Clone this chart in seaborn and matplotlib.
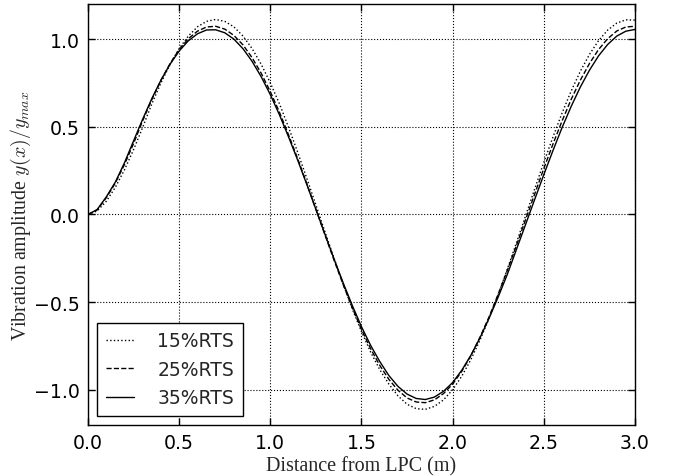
import matplotlib
matplotlib.use("Agg")
import matplotlib.pyplot as plt
import seaborn as sns
import numpy as np

# distance from LPC (m), 0.05 m step
x_m = [0.00, 0.05, 0.10, 0.15, 0.20, 0.25, 0.30, 0.35, 0.40, 0.45,
       0.50, 0.55, 0.60, 0.65, 0.70, 0.75, 0.80, 0.85, 0.90, 0.95,
       1.00, 1.05, 1.10, 1.15, 1.20, 1.25, 1.30, 1.35, 1.40, 1.45,
       1.50, 1.55, 1.60, 1.65, 1.70, 1.75, 1.80, 1.85, 1.90, 1.95,
       2.00, 2.05, 2.10, 2.15, 2.20, 2.25, 2.30, 2.35, 2.40, 2.45,
       2.50, 2.55, 2.60, 2.65, 2.70, 2.75, 2.80, 2.85, 2.90, 2.95, 3.00]

rts15 = [0.000, 0.020, 0.075, 0.155, 0.255, 0.370, 0.497, 0.631, 0.750, 0.856,
         0.946, 1.017, 1.070, 1.101, 1.112, 1.101, 1.070, 1.017, 0.946, 0.856,
         0.750, 0.631, 0.497, 0.355, 0.206, 0.054, -0.100, -0.252, -0.399, -0.539,
         -0.668, -0.784, -0.884, -0.967, -1.034, -1.082, -1.107, -1.111, -1.094, -1.057,
         -0.999, -0.922, -0.827, -0.716, -0.591, -0.455, -0.311, -0.161, -0.008, 0.146,
         0.297, 0.441, 0.578, 0.704, 0.816, 0.912, 0.991, 1.051, 1.091, 1.110, 1.108]

rts25 = [0.000, 0.026, 0.095, 0.180, 0.285, 0.405, 0.535, 0.655, 0.765, 0.860,
         0.940, 1.002, 1.045, 1.069, 1.073, 1.057, 1.021, 0.967, 0.894, 0.805,
         0.700, 0.583, 0.454, 0.318, 0.176, 0.029, -0.117, -0.262, -0.401, -0.533,
         -0.656, -0.765, -0.860, -0.940, -1.002, -1.046, -1.069, -1.073, -1.057, -1.021,
         -0.967, -0.894, -0.805, -0.700, -0.583, -0.454, -0.318, -0.176, -0.029, 0.117,
         0.262, 0.401, 0.533, 0.656, 0.765, 0.860, 0.940, 1.002, 1.046, 1.069, 1.073]

rts35 = [0.000, 0.028, 0.100, 0.185, 0.295, 0.420, 0.544, 0.661, 0.766, 0.857,
         0.932, 0.990, 1.030, 1.052, 1.053, 1.036, 1.000, 0.945, 0.873, 0.785,
         0.683, 0.568, 0.442, 0.310, 0.171, 0.029, -0.114, -0.255, -0.391, -0.520,
         -0.640, -0.746, -0.838, -0.918, -0.980, -1.024, -1.049, -1.055, -1.041, -1.008,
         -0.958, -0.888, -0.803, -0.703, -0.591, -0.470, -0.341, -0.199, -0.057, 0.086,
         0.227, 0.364, 0.495, 0.616, 0.726, 0.822, 0.904, 0.969, 1.017, 1.045, 1.055]

labels = ["15%RTS", "25%RTS", "35%RTS"]
styles = [":", "--", "-"]
series = [rts15, rts25, rts35]

xticks = [0.0, 0.5, 1.0, 1.5, 2.0, 2.5, 3.0]
yticks = [-1.0, -0.5, 0.0, 0.5, 1.0]

sns.set_style("ticks")
plt.rcParams["font.family"] = ["DejaVu Sans"]
plt.rcParams["mathtext.fontset"] = "cm"

fig = plt.figure(figsize=(6.75, 4.77), dpi=100)
ax = fig.add_axes([0.1304, 0.107, 0.8103, 0.8825])

for lab, ls, ys in zip(labels, styles, series):
    sns.lineplot(x=x_m, y=ys, ax=ax, color="black", linestyle=ls,
                 linewidth=1.0, label=lab)

ax.set_xlim(0, 3.0)
ax.set_ylim(-1.2, 1.2)
ax.set_xticks(xticks)
ax.set_yticks(yticks)
ax.set_xticklabels([f"{t:.1f}" for t in xticks])
ax.set_yticklabels([f"{t:.1f}".replace("-", "\u2212") for t in yticks])
ax.tick_params(direction="in", top=True, right=True, length=5, width=1,
               labelsize=13.6, colors="black", pad=6)
ax.grid(True, color="black", linestyle=":", linewidth=0.8)
for s in ax.spines.values():
    s.set_color("black")
    s.set_linewidth(1.0)

ax.set_xlabel("Distance from LPC (m)", fontsize=14.5, family="Liberation Serif",
              labelpad=3)
ax.set_ylabel("Vibration amplitude $y(x)/y_{max}$", fontsize=14.3,
              family="Liberation Serif")
ax.yaxis.set_label_coords(-0.100, 0.5)

leg = ax.legend(loc="lower left", fontsize=13.5, frameon=True, fancybox=False,
                edgecolor="black", framealpha=1, handlelength=1.5,
                borderpad=0.45, labelspacing=0.5, handletextpad=1.25,
                borderaxespad=0.5)
leg.get_frame().set_linewidth(1.0)

fig.savefig("out.png", dpi=100)
